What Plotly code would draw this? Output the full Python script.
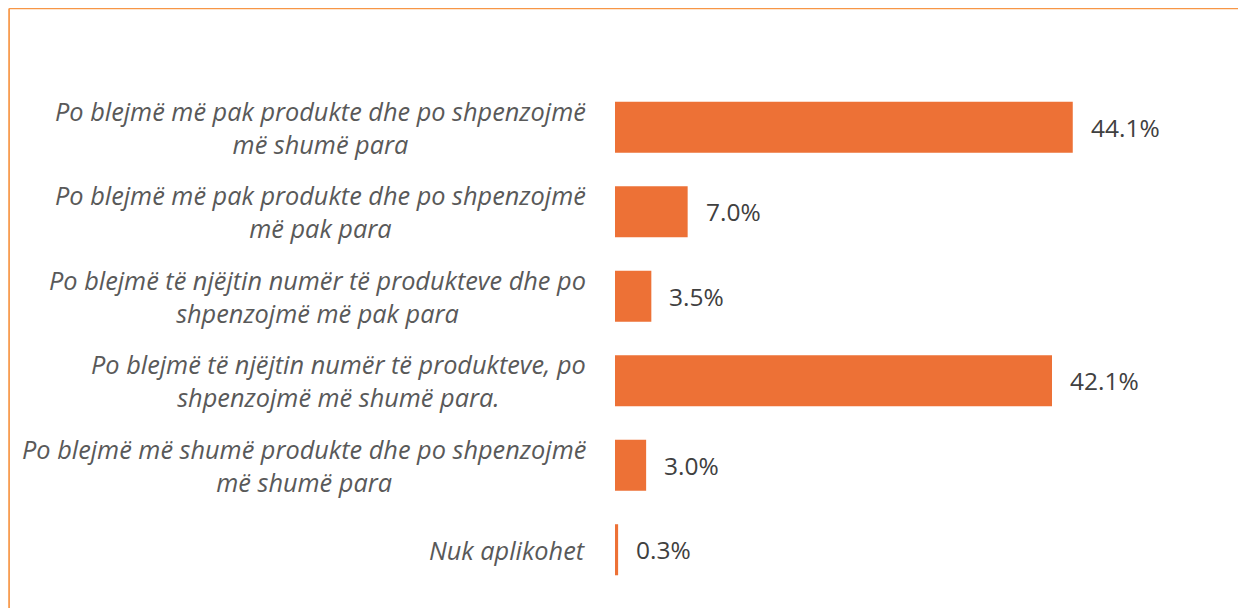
import plotly.graph_objects as go

categories = [
    "Po blejmë më pak produkte dhe po shpenzojmë<br>më shumë para",
    "Po blejmë më pak produkte dhe po shpenzojmë<br>më pak para",
    "Po blejmë të njëjtin numër të produkteve dhe po<br>shpenzojmë më pak para",
    "Po blejmë të njëjtin numër të produkteve, po<br>shpenzojmë më shumë para.",
    "Po blejmë më shumë produkte dhe po shpenzojmë<br>më shumë para",
    "Nuk aplikohet",
]
values = [44.1, 7.0, 3.5, 42.1, 3.0, 0.3]
value_labels = ["44.1%", "7.0%", "3.5%", "42.1%", "3.0%", "0.3%"]

BAR_COLOR = "#ED7136"
BORDER_COLOR = "#F79646"
FONT = "Open Sans"

fig = go.Figure(
    go.Bar(
        x=values,
        y=categories,
        orientation="h",
        marker=dict(color=BAR_COLOR, line=dict(width=0)),
        hoverinfo="skip",
    )
)

annotations = []
for cat, v, lab in zip(categories, values, value_labels):
    annotations.append(dict(
        x=v, y=cat, xref="x", yref="y", text=lab, showarrow=False,
        xanchor="left", yanchor="middle", xshift=16,
        font=dict(family=FONT, size=24.5, color="#404040"),
    ))
    annotations.append(dict(
        x=0, y=cat, xref="paper", yref="y", text="<i>" + cat + "</i>",
        showarrow=False, xanchor="right", yanchor="middle", align="center",
        xshift=-27,
        font=dict(family=FONT, size=25.3, color="#595959"),
    ))

# page has an 8px body offset; positions below are in figure pixels
OFF = 8
W, H = 1246 - OFF, 608 - OFF
L = 615 - OFF
T = 85 - OFF
pw = 519.5
ph = 507
R = W - L - pw
B = H - T - ph
px = lambda p: (p - OFF - L) / pw
py = lambda p: (T + ph - (p - OFF)) / ph

border = dict(color=BORDER_COLOR, width=1.7)
fig.update_layout(
    width=W, height=H,
    margin=dict(l=L, r=R, t=T, b=B, pad=0),
    paper_bgcolor="white", plot_bgcolor="white",
    bargap=0.396,
    showlegend=False,
    xaxis=dict(range=[0, 50], visible=False, fixedrange=True),
    yaxis=dict(autorange="reversed", showticklabels=False, showgrid=False,
               zeroline=False, showline=False, ticks="", fixedrange=True),
    annotations=annotations,
    shapes=[
        dict(type="line", xref="paper", yref="paper",
             x0=px(8.5), x1=px(8.5), y0=py(700), y1=py(8.5),
             line=border, layer="above"),
        dict(type="line", xref="paper", yref="paper",
             x0=px(8.5), x1=px(1400), y0=py(8.5), y1=py(8.5),
             line=border, layer="above"),
    ],
    font=dict(family=FONT),
)

fig.write_html("out.html", config={"displayModeBar": False})
